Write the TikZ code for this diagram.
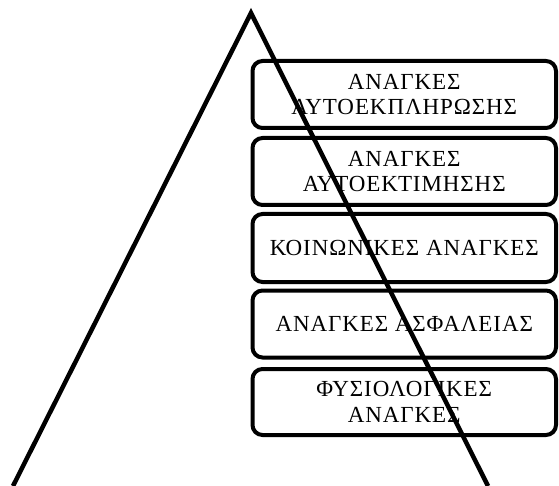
\documentclass[tikz,border=0pt]{standalone}
\usepackage{fontspec}
\setmainfont{Liberation Serif}
\newfontfamily\boxfont[LetterSpace=4]{Liberation Serif}
\begin{document}
\begin{tikzpicture}[x=1pt,y=-1pt,
  needbox/.style={draw=black, line width=4pt, rounded corners=10pt, fill=white,
    minimum width=303.5pt, inner sep=0pt, align=center,
    font=\boxfont\fontsize{23}{25.7}\selectfont},
  pyr/.style={draw=black, line width=4.5pt, line join=miter}]
\useasboundingbox (0,0) rectangle (559,486);
\node[needbox, minimum height=67pt] (b1) at (404.25,94.5) {ΑΝΑΓΚΕΣ\\ΑΥΤΟΕΚΠΛΗΡΩΣΗΣ};
\node[needbox, minimum height=67pt] (b2) at (404.25,171.5) {ΑΝΑΓΚΕΣ\\ΑΥΤΟΕΚΤΙΜΗΣΗΣ};
\node[needbox, minimum height=68pt] (b3) at (404.25,248) {ΚΟΙΝΩΝΙΚΕΣ ΑΝΑΓΚΕΣ};
\node[needbox, minimum height=67pt] (b4) at (404.25,324) {ΑΝΑΓΚΕΣ ΑΣΦΑΛΕΙΑΣ};
\node[needbox, minimum height=66pt] (b5) at (404.25,402) {ΦΥΣΙΟΛΟΓΙΚΕΣ\\ΑΝΑΓΚΕΣ};
\coordinate (apex) at (251,13);
\coordinate (bl) at (13,486);
\coordinate (br) at (488,486);
\draw[pyr] (bl) -- (apex) -- (br);
\end{tikzpicture}
\end{document}
